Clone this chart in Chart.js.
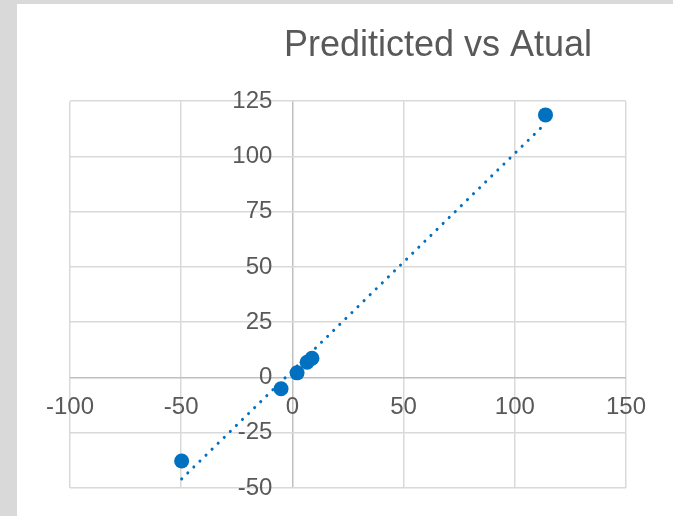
<!DOCTYPE html>
<html>
<head>
<meta charset="utf-8">
<script src="https://cdn.jsdelivr.net/npm/chart.js@4"></script>
<style>
  html, body { margin: 0; padding: 0; background: #d9d9d9; overflow: hidden; }
  #wrap { position: absolute; left: 17px; top: 4px; width: 656px; height: 512px; overflow: hidden; background: #fff; }
</style>
</head>
<body>
<div id="wrap"><canvas id="chart" width="842" height="512"></canvas></div>
<script>
const titleText = "Prediticted vs Atual";
const actualValues = [-49.8, -5.1, 2.1, 6.6, 8.8, 113.8];
const predictedValues = [-37.8, -5.1, 2.1, 6.9, 8.7, 118.8];
const xTicks = { min: -100, max: 150, step: 50 };
const yTicks = { min: -50, max: 125, step: 25 };

// linear trendline like Excel's, fitted from the points
function trendline(xs, ys) {
  const n = xs.length;
  const mx = xs.reduce((a, b) => a + b, 0) / n;
  const my = ys.reduce((a, b) => a + b, 0) / n;
  let sxy = 0, sxx = 0;
  xs.forEach((x, i) => { sxy += (x - mx) * (ys[i] - my); sxx += (x - mx) * (x - mx); });
  const slope = sxy / sxx, icpt = my - slope * mx;
  const lo = Math.min(...xs), hi = Math.max(...xs);
  return [{ x: lo, y: slope * lo + icpt }, { x: hi, y: slope * hi + icpt }];
}

const points = actualValues.map((x, i) => ({ x: x, y: predictedValues[i] }));
const blue = "#0070c0";
const tickFont = { family: "'Liberation Sans', Arial, sans-serif", size: 24 };
const gridColor = ctx => ctx.tick && ctx.tick.value === 0 ? "#bfbfbf" : "#d9d9d9";

// empty side axes, only there to hold the plot margins
function spacer(pos, w) {
  return {
    type: "linear", position: pos, display: true,
    ticks: { display: false }, grid: { display: false }, border: { display: false },
    afterFit: s => { s.width = w; }
  };
}

new Chart(document.getElementById("chart"), {
  type: "scatter",
  data: {
    datasets: [{
      label: "points",
      data: points,
      backgroundColor: blue,
      borderWidth: 0,
      pointRadius: 7.5,
      pointHoverRadius: 7.5
    }, {
      type: "line",
      label: "trend",
      data: trendline(actualValues, predictedValues),
      borderColor: blue,
      borderWidth: 3,
      borderCapStyle: "round",
      borderDash: [0.1, 8.4],
      pointRadius: 0,
      fill: false
    }]
  },
  options: {
    responsive: false,
    animation: false,
    layout: { padding: { left: 0, right: 0, top: 0, bottom: 28 } },
    plugins: {
      legend: { display: false },
      tooltip: { enabled: false },
      title: {
        display: true,
        text: titleText,
        color: "#595959",
        font: { family: "'Liberation Sans', Arial, sans-serif", size: 36, weight: "normal" },
        padding: { top: 20, bottom: 34 }
      }
    },
    scales: {
      x: {
        type: "linear",
        position: { y: 0 },
        min: xTicks.min, max: xTicks.max,
        ticks: { stepSize: xTicks.step, color: "#595959", font: tickFont, padding: 15, maxRotation: 0 },
        grid: { color: gridColor, lineWidth: 1.5, drawTicks: false },
        border: { display: false }
      },
      y: {
        type: "linear",
        position: { x: -9 },
        min: yTicks.min, max: yTicks.max,
        ticks: { stepSize: yTicks.step, color: "#595959", font: tickFont },
        grid: { color: gridColor, lineWidth: 1.5, drawTicks: false },
        border: { display: false }
      },
      padL: spacer("left", 53),
      padR: spacer("right", 233)
    }
  }
});
</script>
</body>
</html>
